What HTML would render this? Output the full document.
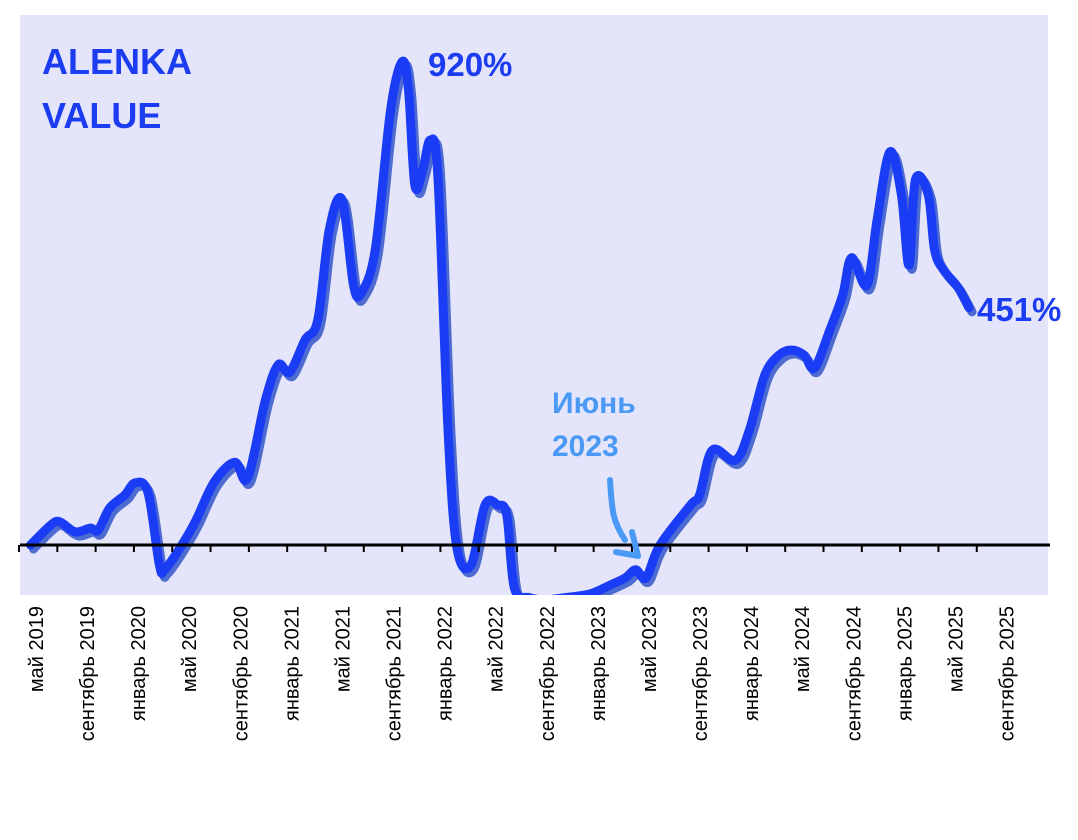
<!DOCTYPE html>
<html><head><meta charset="utf-8"><style>
body{margin:0;background:#fff;width:1078px;height:840px;overflow:hidden}
svg{display:block}
</style></head><body>
<svg id="chart" width="1078" height="840" font-family="Liberation Sans, DejaVu Sans, sans-serif">
<defs><clipPath id="pc"><rect x="20" y="15" width="1028" height="580"/></clipPath></defs>
<rect x="20" y="15" width="1028" height="580" fill="#e4e4fa"/>
<g id="line-g" clip-path="url(#pc)"></g>
<line x1="20" y1="545" x2="1050" y2="545" stroke="#000" stroke-width="3"/>
<g id="ticks"></g>
<g id="labels"></g>
<text x="42" y="74" font-size="36" font-weight="bold" fill="#1b3cf0">ALENKA</text>
<text x="42" y="128" font-size="36" font-weight="bold" fill="#1b3cf0">VALUE</text>
<text x="428" y="76" font-size="33" font-weight="bold" fill="#1b3cf0">920%</text>
<text x="977" y="321" font-size="33" font-weight="bold" fill="#1b3cf0">451%</text>
<text x="552" y="413" font-size="30" font-weight="bold" fill="#4a9af5">Июнь</text>
<text x="552" y="456" font-size="30" font-weight="bold" fill="#4a9af5">2023</text>
<path d="M610 480 C612 510 612 520 625 540 M616 552 L638 556 L632 532" fill="none" stroke="#4a9af5" stroke-width="6" stroke-linecap="round" stroke-linejoin="round"/>
</svg>
<script>
const months=[-0.2,1.4,2.1,3.3,4.5,5.1,6.0,7.2,8.0,9.0,9.9,10.3,11.5,12.7,14.2,15.8,16.8,18.2,19.2,20.1,21.3,22.3,23.2,24.2,25.1,25.7,26.8,28.0,28.9,29.4,29.9,30.5,31.1,31.7,32.5,33.2,34.3,35.4,36.4,37.1,37.7,38.9,40.1,41.6,43.6,45.2,46.4,47.2,48.0,49.1,51.5,52.2,53.2,55.0,56.1,57.3,58.4,59.4,60.4,61.2,62.4,63.4,64.1,65.3,66.1,67.1,68.0,68.6,69.1,70.1,70.6,71.3,72.4,73.3];
const values=[0,38,44,25,32,28,70,95,118,100,-38,-47,-6,44,120,157,127,275,342,328,389,427,598,655,493,478,560,825,917,865,683,710,768,702,218,-6,-38,76,76,57,-82,-100,-104,-100,-93,-76,-62,-47,-62,0,76,95,180,161,218,322,360,370,360,336,408,474,545,493,617,746,665,531,693,665,560,522,490,450];
const tickMonths=[];for(let i=-1;i<=25;i++)tickMonths.push(i*3);
const labelTexts=["май 2019","сентябрь 2019","январь 2020","май 2020","сентябрь 2020","январь 2021","май 2021","сентябрь 2021","январь 2022","май 2022","сентябрь 2022","январь 2023","май 2023","сентябрь 2023","январь 2024","май 2024","сентябрь 2024","январь 2025","май 2025","сентябрь 2025"];
const labelMonths=labelTexts.map((t,i)=>i*4);
const xS=m=>33+12.77*m, yS=v=>545-0.527*v;
const NS="http://www.w3.org/2000/svg";
function pathD(dx,dy){const n=Math.min(months.length,values.length);const p=[];for(let i=0;i<n;i++)p.push([xS(months[i])+dx,yS(values[i])+dy]);let d="M"+p[0][0]+" "+p[0][1];
for(let i=0;i<n-1;i++){const a=p[Math.max(i-1,0)],b=p[i],c=p[i+1],e=p[Math.min(i+2,n-1)];
d+=` C${b[0]+(c[0]-a[0])/6} ${b[1]+(c[1]-a[1])/6} ${c[0]-(e[0]-b[0])/6} ${c[1]-(e[1]-b[1])/6} ${c[0]} ${c[1]}`;}return d;}
const lg=document.getElementById('line-g');
const sh=document.createElementNS(NS,'path');
sh.setAttribute('d',pathD(3,4));sh.setAttribute('fill','none');sh.setAttribute('stroke','#4d6bd0');sh.setAttribute('stroke-width','9');sh.setAttribute('stroke-linecap','round');sh.setAttribute('stroke-linejoin','round');


lg.appendChild(sh);
const ln=document.createElementNS(NS,'path');
ln.setAttribute('d',pathD(0,0));ln.setAttribute('fill','none');ln.setAttribute('stroke','#1a3cf5');ln.setAttribute('stroke-width','9');ln.setAttribute('stroke-linecap','round');ln.setAttribute('stroke-linejoin','round');


lg.appendChild(ln);
const tg=document.getElementById('ticks');
tickMonths.forEach(m=>{const x=xS(m)-14;if(x<18||x>1052)return;const t=document.createElementNS(NS,'line');
t.setAttribute('x1',x);t.setAttribute('x2',x);t.setAttribute('y1',545);t.setAttribute('y2',552);t.setAttribute('stroke','#000');t.setAttribute('stroke-width','2');


tg.appendChild(t);});
const lbg=document.getElementById('labels');
labelTexts.forEach((s,i)=>{const x=xS(labelMonths[i])+10;const t=document.createElementNS(NS,'text');
t.setAttribute('transform',`translate(${x},606) rotate(-90)`);t.setAttribute('text-anchor','end');t.setAttribute('font-size','20');t.setAttribute('fill','#000');t.textContent=s;


lbg.appendChild(t);});
</script>
</body></html>
